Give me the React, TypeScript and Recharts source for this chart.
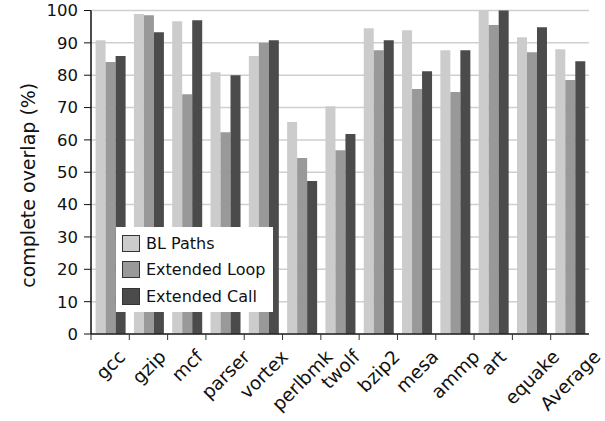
import React from 'react';
import { BarChart, Bar, XAxis, YAxis, CartesianGrid, Legend } from 'recharts';

const categories = ['gcc', 'gzip', 'mcf', 'parser', 'vortex', 'perlbmk', 'twolf', 'bzip2', 'mesa', 'ammp', 'art', 'equake', 'Average'];
const blPaths = [90.8, 98.9, 96.7, 80.9, 85.9, 65.5, 70.4, 94.5, 93.9, 87.7, 100, 91.7, 88.0];
const extendedLoop = [84.1, 98.5, 74.1, 62.4, 90.0, 54.4, 56.8, 87.7, 75.7, 74.8, 95.5, 87.1, 78.5];
const extendedCall = [85.9, 93.3, 97.0, 80.0, 90.8, 47.3, 61.8, 90.8, 81.2, 87.7, 100, 94.8, 84.3];
const yTicks = [0, 10, 20, 30, 40, 50, 60, 70, 80, 90, 100];

const seriesNames = ['BL Paths', 'Extended Loop', 'Extended Call'];
const seriesColors = ['#cccccc', '#999999', '#4b4b4b'];

const data = categories.map((c, i) => ({
  name: c,
  bl: blPaths[i],
  loop: extendedLoop[i],
  call: extendedCall[i],
}));

const W = 605;
const H = 421;
const MARGIN = { top: 10.5, right: 16, bottom: 0, left: 0 };
const YAXIS_W = 91;
const FONT = '"DejaVu Sans", Verdana, sans-serif';
const XFONT_SIZE = 18.5;

const plotWidth = W - MARGIN.left - MARGIN.right - YAXIS_W;
const band = plotWidth / categories.length;

let measureCtx: CanvasRenderingContext2D | null = null;
const textWidth = (s: string, size: number) => {
  try {
    if (!measureCtx) measureCtx = document.createElement('canvas').getContext('2d');
    if (measureCtx) {
      measureCtx.font = `${size}px "DejaVu Sans"`;
      return measureCtx.measureText(s).width;
    }
  } catch (e) {
    /* ignore */
  }
  return s.length * size * 0.6;
};

const XTick = (props: any) => {
  const { x, y, payload } = props;
  const half = band / 2;
  const L = textWidth(String(payload.value), XFONT_SIZE);
  const px = x + 0.354 * L + 5;
  const py = y + 24;
  return (
    <g>
      <line x1={x - half} y1={y} x2={x - half} y2={y + 6} stroke="#333" strokeWidth={1} />
      <text
        x={px}
        y={py}
        textAnchor="end"
        fontSize={XFONT_SIZE}
        fontFamily={FONT}
        fill="#111"
        transform={`rotate(-45, ${px}, ${py})`}
      >
        {payload.value}
      </text>
    </g>
  );
};

const YLabel = (props: any) => {
  const vb = props.viewBox || { x: 0, y: 0, width: 0, height: 0 };
  const cx = vb.x + 28;
  const cy = vb.y + vb.height / 2 + 13;
  return (
    <text
      x={cx}
      y={cy}
      textAnchor="middle"
      dominantBaseline="central"
      fontSize={19}
      fontFamily={FONT}
      fill="#111"
      transform={`rotate(-90, ${cx}, ${cy})`}
    >
      complete overlap (%)
    </text>
  );
};

const LegendBox = () => (
  <div
    style={{
      background: '#fff',
      width: 157,
      height: 85,
      boxSizing: 'border-box',
      paddingTop: 3,
      fontFamily: FONT,
      fontSize: 16,
      color: '#111',
    }}
  >
    {seriesNames.map((n, i) => (
      <div key={n} style={{ display: 'flex', alignItems: 'center', height: 26.5 }}>
        <div
          style={{
            width: 18,
            height: 17,
            marginLeft: 6,
            marginRight: 6,
            background: seriesColors[i],
            border: '1px solid #333',
            boxSizing: 'border-box',
          }}
        />
        <span style={{ whiteSpace: 'nowrap' }}>{n}</span>
      </div>
    ))}
  </div>
);

export default function App() {
  return (
    <div style={{ position: 'absolute', left: 0, top: 0, width: W, height: H, background: '#fff' }}>
      <BarChart
        width={W}
        height={H}
        data={data}
        margin={MARGIN}
        barGap={0}
        barCategoryGap="12%"
        style={{ overflow: 'visible' }}
      >
        <CartesianGrid vertical={false} stroke="#cfcfcf" strokeWidth={1.5} yAxisId="left" />
        <XAxis
          dataKey="name"
          interval={0}
          height={87}
          tickSize={0}
          tickMargin={0}
          tickLine={false}
          axisLine={{ stroke: '#222', strokeWidth: 1.5 }}
          tick={<XTick />}
        />
        <YAxis
          yAxisId="left"
          domain={[0, 100]}
          ticks={yTicks}
          interval={0}
          width={YAXIS_W}
          tickSize={7}
          tickMargin={6}
          axisLine={{ stroke: '#111', strokeWidth: 1.5 }}
          tickLine={{ stroke: '#111' }}
          tick={{ fontSize: 16.5, fontFamily: FONT, fill: '#111' }}
          label={<YLabel />}
        />
        <YAxis
          yAxisId="right"
          orientation="right"
          domain={[0, 100]}
          width={0}
          tick={false}
          tickLine={false}
          axisLine={{ stroke: '#c4c4c4', strokeWidth: 1.5 }}
        />
        <Legend
          content={<LegendBox />}
          layout="vertical"
          verticalAlign="middle"
          align="center"
          wrapperStyle={{ left: 116, top: 227, width: 157, height: 85 }}
        />
        <Bar yAxisId="left" dataKey="bl" name="BL Paths" fill={seriesColors[0]} isAnimationActive={false} />
        <Bar yAxisId="left" dataKey="loop" name="Extended Loop" fill={seriesColors[1]} isAnimationActive={false} />
        <Bar yAxisId="left" dataKey="call" name="Extended Call" fill={seriesColors[2]} isAnimationActive={false} />
      </BarChart>
    </div>
  );
}
